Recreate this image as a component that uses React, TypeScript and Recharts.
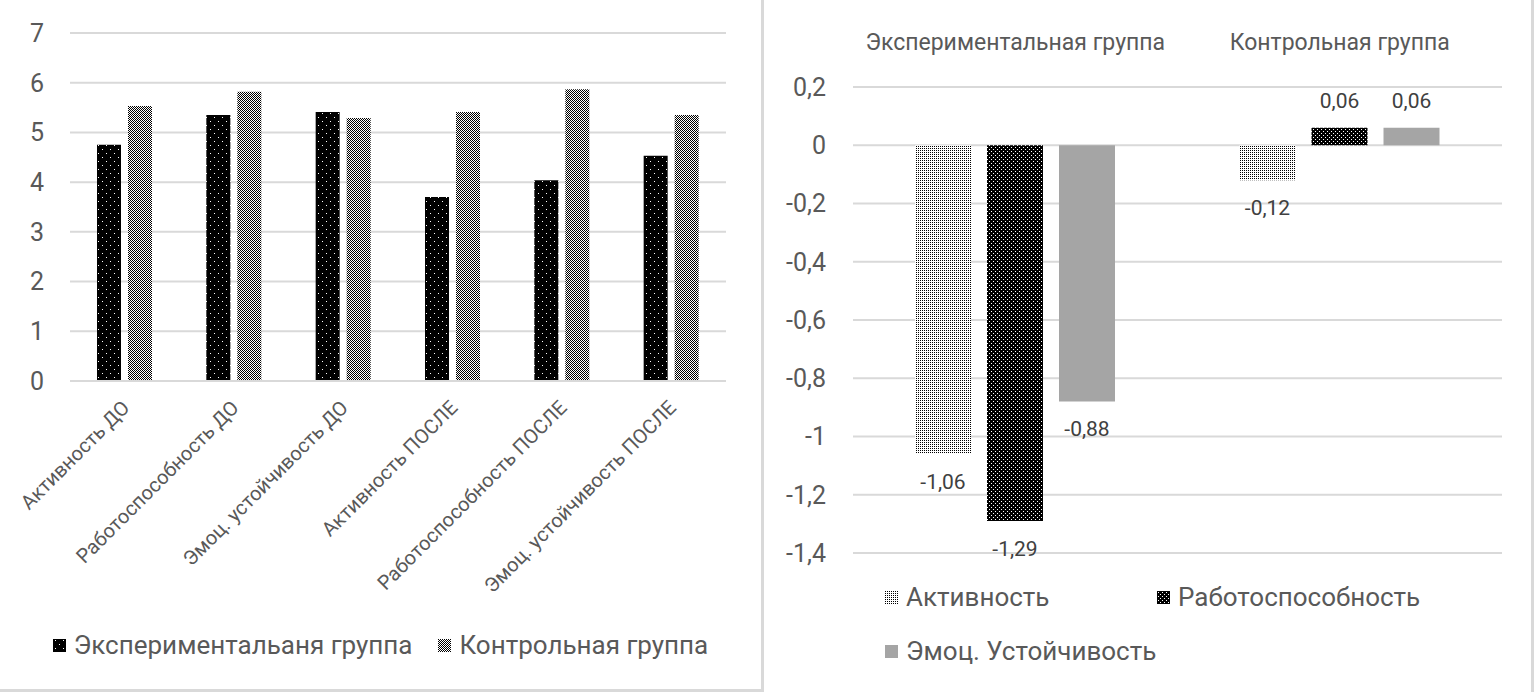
import React from 'react';
import { BarChart, Bar, XAxis, YAxis, CartesianGrid, Legend, LabelList } from 'recharts';

// left chart: scores before / after
const stages = [
  'Активность ДО',
  'Работоспособность ДО',
  'Эмоц. устойчивость ДО',
  'Активность ПОСЛЕ',
  'Работоспособность ПОСЛЕ',
  'Эмоц. устойчивость ПОСЛЕ',
];
const expScores = [4.75, 5.35, 5.41, 3.7, 4.04, 4.53];
const ctrlScores = [5.53, 5.82, 5.29, 5.41, 5.87, 5.35];
const scoreTicks = [0, 1, 2, 3, 4, 5, 6, 7];

// right chart: change per group
const groups = ['Экспериментальная группа', 'Контрольная группа'];
const activityDelta = [-1.06, -0.12];
const workDelta = [-1.29, 0.06];
const emoDelta = [-0.88, 0.06];
const deltaTicks = [0.2, 0, -0.2, -0.4, -0.6, -0.8, -1, -1.2, -1.4];

const FONT = 'Roboto, "Noto Sans", sans-serif';
const TEXT = '#595959';
const GRID = '#d9d9d9';

const fmt = (v: number) => String(Math.round(v * 100) / 100).replace('.', ',');

const scoreData = stages.map((s, i) => ({ stage: s, exp: expScores[i], ctrl: ctrlScores[i] }));
const deltaData = groups.map((g, i) => ({
  group: g,
  act: activityDelta[i],
  work: workDelta[i],
  emo: emoDelta[i],
}));

function Patterns() {
  return (
    <svg width={0} height={0} style={{ position: 'absolute' }}>
      <defs>
        <pattern id="pExpL" width={8} height={8} patternUnits="userSpaceOnUse">
          <rect width={8} height={8} fill="#000" />
          <rect x={2} y={1} width={1} height={1} fill="#fff" />
          <rect x={6} y={5} width={1} height={1} fill="#fff" />
        </pattern>
        <pattern id="pCtrlL" width={2} height={2} patternUnits="userSpaceOnUse">
          <rect width={2} height={2} fill="#fff" />
          <rect x={0} y={0} width={1} height={1} fill="#000" />
          <rect x={1} y={1} width={1} height={1} fill="#000" />
        </pattern>
        <pattern id="pAct" width={2} height={2} patternUnits="userSpaceOnUse">
          <rect width={2} height={2} fill="#fff" />
          <rect x={0} y={0} width={1} height={1} fill="#000" />
        </pattern>
        <pattern id="pWork" width={4} height={4} patternUnits="userSpaceOnUse">
          <rect width={4} height={4} fill="#000" />
          <rect x={1} y={1} width={1} height={1} fill="#fff" />
          <rect x={3} y={3} width={1} height={1} fill="#fff" />
        </pattern>
      </defs>
    </svg>
  );
}

const StageTick = (props: any) => {
  const { x, y, payload } = props;
  return (
    <g transform={`translate(${x + 6},${y + 20}) rotate(-45)`}>
      <text x={0} y={0} textAnchor="end" fill={TEXT} fontSize={20} fontFamily={FONT}>
        {payload.value}
      </text>
    </g>
  );
};

const GroupTick = (props: any) => {
  const { x, y, payload } = props;
  return (
    <text x={x} y={y} textAnchor="middle" fill={TEXT} fontSize={23} fontFamily={FONT}>
      {payload.value}
    </text>
  );
};

function Swatch({ fill }: { fill: string }) {
  return (
    <svg width={13} height={13} style={{ marginRight: 8, flex: 'none' }}>
      <rect width={13} height={13} fill={fill} />
    </svg>
  );
}

const leftLegendItems = [
  { name: 'Экспериментальаня группа', fill: 'url(#pExpL)' },
  { name: 'Контрольная группа', fill: 'url(#pCtrlL)' },
];
const rightLegendItems = [
  { name: 'Активность', fill: 'url(#pAct)' },
  { name: 'Работоспособность', fill: 'url(#pWork)' },
  { name: 'Эмоц. Устойчивость', fill: '#a5a5a5' },
];

const LeftLegend = () => (
  <div style={{ display: 'flex', justifyContent: 'center', gap: 26, fontFamily: FONT, fontSize: 26, color: TEXT }}>
    {leftLegendItems.map((it) => (
      <div key={it.name} style={{ display: 'flex', alignItems: 'center' }}>
        <Swatch fill={it.fill} />
        <span>{it.name}</span>
      </div>
    ))}
  </div>
);

const RightLegend = () => (
  <div style={{ display: 'flex', flexWrap: 'wrap', rowGap: 22, fontFamily: FONT, fontSize: 26, color: TEXT }}>
    {rightLegendItems.map((it) => (
      <div key={it.name} style={{ display: 'flex', alignItems: 'center', width: 272, height: 32 }}>
        <Swatch fill={it.fill} />
        <span>{it.name}</span>
      </div>
    ))}
  </div>
);

export default function App() {
  return (
    <div style={{ position: 'absolute', left: 0, top: 0, width: 1534, height: 692, background: '#fff' }}>
      <Patterns />
      <div
        style={{
          position: 'absolute',
          left: 0,
          top: 0,
          width: 761,
          height: 689,
          borderRight: `3px solid ${GRID}`,
          borderBottom: `3px solid ${GRID}`,
        }}
      >
        <BarChart width={761} height={689} data={scoreData} margin={{ top: 33, right: 35, left: 0, bottom: 0 }} barSize={24} barGap={7}>
          <CartesianGrid vertical={false} stroke={GRID} strokeWidth={2} />
          <XAxis
            dataKey="stage"
            height={308}
            interval={0}
            tickLine={false}
            axisLine={{ stroke: GRID, strokeWidth: 2 }}
            tick={<StageTick />}
          />
          <YAxis
            width={70}
            domain={[0, 7]}
            ticks={scoreTicks}
            axisLine={false}
            tickLine={false}
            tickMargin={20}
            tick={{ fill: TEXT, fontSize: 25, fontFamily: FONT }}
          />
          <Legend
            layout="horizontal"
            verticalAlign="middle"
            align="center"
            wrapperStyle={{ top: 630, left: 0, width: 761 }}
            content={<LeftLegend />}
          />
          <Bar dataKey="exp" name="Экспериментальаня группа" fill="url(#pExpL)" isAnimationActive={false} />
          <Bar dataKey="ctrl" name="Контрольная группа" fill="url(#pCtrlL)" isAnimationActive={false} />
        </BarChart>
      </div>
      <div
        style={{
          position: 'absolute',
          left: 764,
          top: 0,
          width: 767,
          height: 692,
          borderRight: `3px solid ${GRID}`,
        }}
      >
        <BarChart width={767} height={692} data={deltaData} margin={{ top: 0, right: 29, left: 0, bottom: 139 }} barSize={56} barGap={16}>
          <CartesianGrid vertical={false} stroke={GRID} strokeWidth={2} />
          <XAxis
            dataKey="group"
            orientation="top"
            height={87}
            tickLine={false}
            axisLine={false}
            tickMargin={31}
            tick={<GroupTick />}
          />
          <YAxis
            width={89}
            domain={[-1.4, 0.2]}
            ticks={deltaTicks}
            axisLine={false}
            tickLine={false}
            tickMargin={21}
            tickFormatter={fmt}
            tick={{ fill: TEXT, fontSize: 25, fontFamily: FONT }}
          />
          <Legend
            layout="horizontal"
            verticalAlign="middle"
            align="center"
            wrapperStyle={{ top: 581, left: 121, width: 600 }}
            content={<RightLegend />}
          />
          <Bar dataKey="act" name="Активность" fill="url(#pAct)" isAnimationActive={false}>
            <LabelList dataKey="act" position="top" offset={20} formatter={fmt} fill="#404040" fontSize={21} fontFamily={FONT} />
          </Bar>
          <Bar dataKey="work" name="Работоспособность" fill="url(#pWork)" isAnimationActive={false}>
            <LabelList dataKey="work" position="top" offset={20} formatter={fmt} fill="#404040" fontSize={21} fontFamily={FONT} />
          </Bar>
          <Bar dataKey="emo" name="Эмоц. Устойчивость" fill="#a5a5a5" isAnimationActive={false}>
            <LabelList dataKey="emo" position="top" offset={20} formatter={fmt} fill="#404040" fontSize={21} fontFamily={FONT} />
          </Bar>
        </BarChart>
      </div>
    </div>
  );
}
